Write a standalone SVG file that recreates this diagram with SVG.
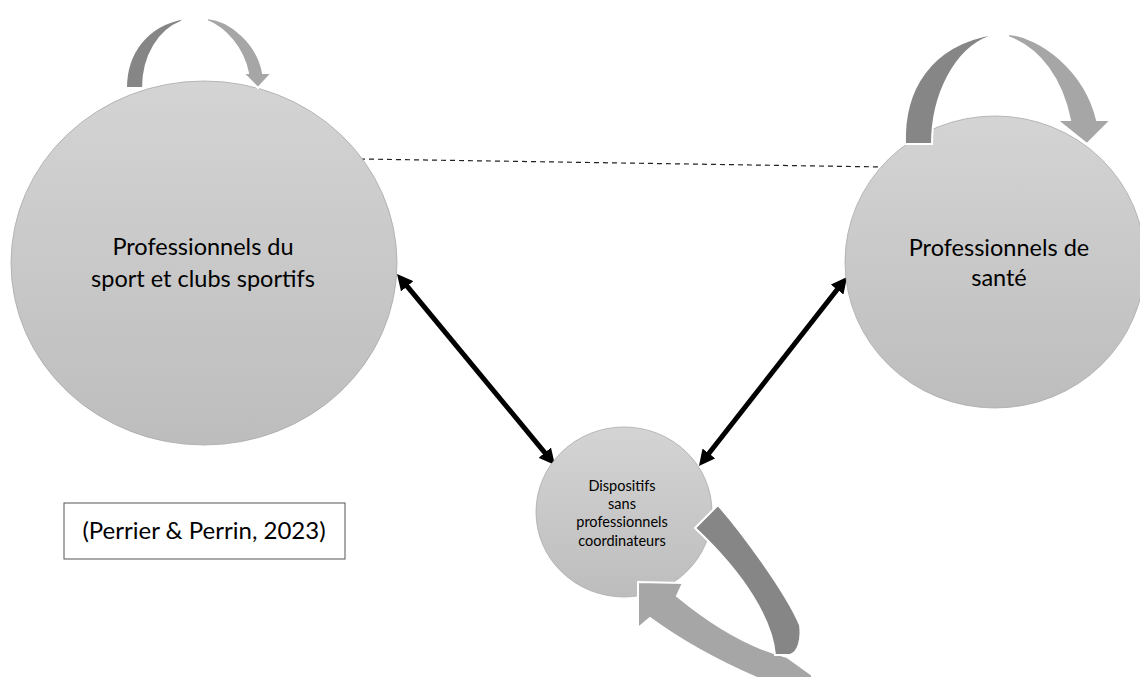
<svg xmlns="http://www.w3.org/2000/svg" width="1140" height="677" viewBox="0 0 1140 677">
<defs>
<linearGradient id="g" x1="0" y1="0" x2="0" y2="1">
<stop offset="0" stop-color="#d4d4d4"/>
<stop offset="1" stop-color="#bdbdbd"/>
</linearGradient>
<marker id="ah" viewBox="0 0 16 16" markerWidth="16" markerHeight="16" refX="8" refY="8" markerUnits="userSpaceOnUse" orient="auto-start-reverse">
<path d="M0,0 L16,8 L0,16 Z" fill="#000"/>
</marker>
</defs>
<style>
.node{fill:url(#g);stroke:#a9a9a9;stroke-width:0.8}
.lbl{font-family:Lato,"Liberation Sans",sans-serif;fill:#000;text-anchor:middle}
.big{font-size:23.5px}
.cite{font-size:24px}
.small{font-size:14.5px}
.dark{fill:#868686;stroke:#fff;stroke-width:2;stroke-linejoin:miter}
.light{fill:#a6a6a6;stroke:#fff;stroke-width:2;stroke-linejoin:miter}
.conn{stroke:#000;stroke-width:5;fill:none}
.dash{stroke:#222;stroke-width:1.2;stroke-dasharray:5 4;fill:none}
</style>
<rect width="1140" height="677" fill="#fff"/>
<g id="connectors">
<line class="dash" x1="360" y1="159" x2="884" y2="167"/>
<line class="conn" x1="402.1" y1="280.2" x2="549.9" y2="458.8" marker-start="url(#ah)" marker-end="url(#ah)"/>
<line class="conn" x1="842.1" y1="283.3" x2="703.9" y2="459.7" marker-start="url(#ah)" marker-end="url(#ah)"/>
</g>
<g id="node-sport">
<ellipse class="node" cx="204" cy="263" rx="193" ry="182"/>
<text class="lbl big" x="203" y="255">Professionnels du</text>
<text class="lbl big" x="203" y="287">sport et clubs sportifs</text>
</g>
<g id="node-sante">
<ellipse class="node" cx="995" cy="262" rx="150" ry="146"/>
<text class="lbl big" x="999" y="256">Professionnels de</text>
<text class="lbl big" x="999" y="286">santé</text>
</g>
<g id="node-dispositifs">
<ellipse class="node" cx="624" cy="512" rx="88" ry="85"/>
<text class="lbl small" x="622" y="491">Dispositifs</text>
<text class="lbl small" x="622" y="509">sans</text>
<text class="lbl small" x="622" y="527">professionnels</text>
<text class="lbl small" x="622" y="546">coordinateurs</text>
</g>
<g id="loop-sport">
<path class="dark" d="M126,88 C126,55 145,25 185,18 L181,22 C160,30 143,55 143,88 Z"/>
<path class="light" d="M207,18 C232,20 258,45 263,73 L272,73 L258,88 L243,73 L248,73 C243,48 225,28 207,21 Z"/>
</g>
<g id="loop-sante">
<path class="dark" d="M905,144 C903,90 930,45 993,34 L989,37 C955,50 932,95 932,144 Z"/>
<path class="light" d="M1008,34 C1040,36 1085,70 1097,120 L1111,120 L1087,144 L1057,120 L1070,120 C1062,80 1040,48 1008,37 Z"/>
</g>
<g id="loop-dispositifs">
<path class="light" d="M638,582 L683,583 L677,596 C700,615 740,645 787,657 L812,675 L812,678 L757,678 C720,662 680,640 650,618 L638,628 Z"/>
<path class="dark" d="M695,528 L718,505 C740,530 785,590 800,625 C802,640 798,653 790,655 L775,655 C772,620 745,575 695,528 Z"/>
</g>
<g id="citation">
<rect x="64" y="503" width="281" height="56" fill="#fff" stroke="#555" stroke-width="1"/>
<text class="lbl cite" x="204" y="539">(Perrier &amp; Perrin, 2023)</text>
</g>
</svg>
